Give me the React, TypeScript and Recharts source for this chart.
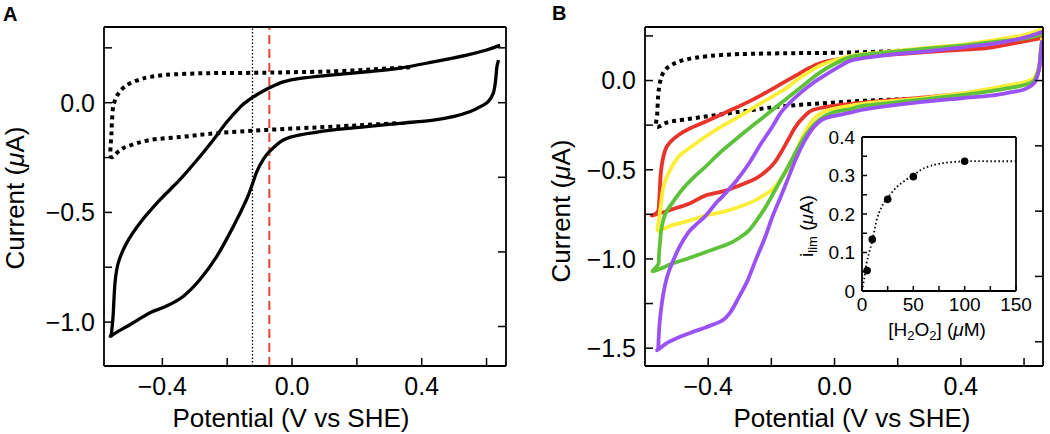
import React from 'react';
import { ComposedChart, Line, XAxis, YAxis, ReferenceLine } from 'recharts';

const FONT = '"Liberation Sans", Arial, Helvetica, sans-serif';

// ---------- Panel A data: [potential V, current µA] in sweep order ----------
const aSolid: number[][] = [
  [0.642, 0.262], [0.6, 0.24], [0.539, 0.217], [0.436, 0.186], [0.333, 0.158], [0.23, 0.141],
  [0.128, 0.127], [0.025, 0.111], [-0.027, 0.095], [-0.07, 0.068], [-0.1, 0.044], [-0.122, 0.024],
  [-0.14, 0.005], [-0.16, -0.02], [-0.2, -0.086], [-0.243, -0.17], [-0.284, -0.245], [-0.346, -0.351],
  [-0.407, -0.442], [-0.469, -0.548], [-0.51, -0.639], [-0.536, -0.73], [-0.546, -0.82], [-0.552, -0.973],
  [-0.557, -1.05], [-0.56, -1.065],
  [-0.545, -1.05], [-0.49, -1.003], [-0.438, -0.957], [-0.387, -0.927], [-0.335, -0.882], [-0.284, -0.806],
  [-0.232, -0.7], [-0.181, -0.564], [-0.14, -0.44], [-0.122, -0.37], [-0.109, -0.315], [-0.09, -0.262],
  [-0.07, -0.223], [-0.027, -0.17], [0.025, -0.147], [0.128, -0.124], [0.23, -0.109], [0.333, -0.094],
  [0.436, -0.079], [0.5, -0.062], [0.55, -0.04], [0.585, -0.015], [0.605, 0.005], [0.62, 0.04],
  [0.627, 0.09], [0.632, 0.164], [0.637, 0.194],
];
const aBlank: number[][] = [
  [0.364, 0.162], [0.25, 0.152], [0.128, 0.143], [0.0, 0.139], [-0.078, 0.137], [-0.2, 0.135],
  [-0.284, 0.134], [-0.387, 0.127], [-0.44, 0.117], [-0.469, 0.106], [-0.5, 0.088], [-0.52, 0.068],
  [-0.535, 0.043], [-0.546, 0.012], [-0.553, -0.033], [-0.557, -0.139], [-0.559, -0.245],
  [-0.535, -0.222], [-0.51, -0.2], [-0.438, -0.17], [-0.335, -0.155], [-0.232, -0.139], [-0.078, -0.124],
  [0.128, -0.109], [0.23, -0.101], [0.33, -0.093],
];
const aMidpointDotted = -0.122;
const aMidpointDashed = -0.07;

// ---------- Panel B data ----------
const bBlank: number[][] = [
  [0.356, 0.182], [0.165, 0.163], [-0.016, 0.155], [-0.15, 0.153], [-0.303, 0.148], [-0.4, 0.137],
  [-0.47, 0.118], [-0.515, 0.088], [-0.54, 0.05], [-0.552, -0.006], [-0.558, -0.08], [-0.561, -0.18],
  [-0.563, -0.259], [-0.53, -0.235], [-0.48, -0.22], [-0.409, -0.202], [-0.3, -0.175], [-0.197, -0.15],
  [-0.1, -0.135], [-0.005, -0.124], [0.1, -0.113], [0.2, -0.106], [0.377, -0.1],
];
const bRed: number[][] = [
  [0.66, 0.24], [0.6, 0.22], [0.494, 0.185], [0.4, 0.172], [0.3, 0.16], [0.15, 0.142], [0.058, 0.13],
  [-0.026, 0.107], [-0.08, 0.07], [-0.12, 0.03], [-0.165, -0.015], [-0.22, -0.07], [-0.271, -0.118],
  [-0.34, -0.175], [-0.409, -0.231], [-0.46, -0.27], [-0.494, -0.305], [-0.52, -0.345], [-0.536, -0.39],
  [-0.549, -0.502], [-0.555, -0.671], [-0.559, -0.735], [-0.578, -0.757],
  [-0.545, -0.74], [-0.515, -0.722], [-0.46, -0.69], [-0.409, -0.645], [-0.35, -0.62], [-0.303, -0.59],
  [-0.25, -0.55], [-0.218, -0.51], [-0.19, -0.46], [-0.165, -0.39], [-0.14, -0.31], [-0.122, -0.255],
  [-0.095, -0.2], [-0.069, -0.165], [-0.005, -0.142], [0.1, -0.122], [0.25, -0.1], [0.4, -0.075],
  [0.494, -0.05], [0.56, -0.035], [0.6, -0.02], [0.632, 0.0], [0.647, 0.06], [0.653, 0.15], [0.657, 0.215],
];
const bYellow: number[][] = [
  [0.66, 0.29], [0.6, 0.255], [0.5, 0.225], [0.4, 0.2], [0.3, 0.185], [0.15, 0.158], [0.058, 0.14],
  [-0.026, 0.098], [-0.07, 0.06], [-0.112, 0.013], [-0.15, -0.04], [-0.197, -0.09], [-0.25, -0.145],
  [-0.303, -0.202], [-0.36, -0.26], [-0.409, -0.315], [-0.46, -0.38], [-0.494, -0.427], [-0.526, -0.521],
  [-0.542, -0.6], [-0.55, -0.7], [-0.556, -0.78], [-0.56, -0.84],
  [-0.54, -0.83], [-0.515, -0.812], [-0.46, -0.785], [-0.409, -0.757], [-0.35, -0.735], [-0.303, -0.709],
  [-0.25, -0.67], [-0.197, -0.61], [-0.165, -0.54], [-0.143, -0.48], [-0.12, -0.39], [-0.101, -0.315],
  [-0.08, -0.25], [-0.058, -0.202], [-0.026, -0.17], [0.016, -0.152], [0.1, -0.128], [0.25, -0.105],
  [0.4, -0.072], [0.494, -0.045], [0.56, -0.025], [0.6, -0.01], [0.632, 0.015], [0.647, 0.08],
  [0.653, 0.17], [0.657, 0.24],
];
const bGreen: number[][] = [
  [0.66, 0.26], [0.6, 0.235], [0.5, 0.215], [0.4, 0.195], [0.3, 0.18], [0.15, 0.155], [0.058, 0.135],
  [-0.005, 0.088], [-0.05, 0.04], [-0.09, -0.015], [-0.14, -0.085], [-0.197, -0.165], [-0.25, -0.24],
  [-0.303, -0.315], [-0.36, -0.4], [-0.409, -0.484], [-0.45, -0.55], [-0.484, -0.615], [-0.515, -0.69],
  [-0.536, -0.75], [-0.548, -0.83], [-0.552, -0.9], [-0.556, -0.98], [-0.558, -1.03], [-0.576, -1.069],
  [-0.545, -1.05], [-0.515, -1.027], [-0.46, -0.995], [-0.409, -0.962], [-0.335, -0.915], [-0.3, -0.88],
  [-0.271, -0.84], [-0.245, -0.78], [-0.218, -0.709], [-0.19, -0.62], [-0.165, -0.54], [-0.14, -0.46],
  [-0.11, -0.36], [-0.08, -0.28], [-0.048, -0.22], [-0.005, -0.18], [0.05, -0.16], [0.1, -0.14],
  [0.25, -0.112], [0.4, -0.082], [0.494, -0.06], [0.56, -0.04], [0.6, -0.025], [0.632, 0.0],
  [0.647, 0.07], [0.653, 0.16], [0.657, 0.225],
];
const bPurple: number[][] = [
  [0.66, 0.275], [0.6, 0.24], [0.515, 0.21], [0.4, 0.185], [0.3, 0.165], [0.15, 0.14], [0.058, 0.115],
  [0.016, 0.079], [-0.03, 0.03], [-0.069, -0.015], [-0.105, -0.065], [-0.143, -0.127], [-0.17, -0.18],
  [-0.197, -0.259], [-0.235, -0.36], [-0.271, -0.465], [-0.31, -0.56], [-0.356, -0.652], [-0.377, -0.69],
  [-0.409, -0.76], [-0.44, -0.81], [-0.462, -0.85], [-0.49, -0.93], [-0.515, -1.027], [-0.53, -1.1],
  [-0.542, -1.196], [-0.552, -1.327], [-0.556, -1.42], [-0.558, -1.496], [-0.56, -1.51],
  [-0.53, -1.47], [-0.494, -1.44], [-0.45, -1.41], [-0.409, -1.384], [-0.356, -1.346], [-0.33, -1.3],
  [-0.303, -1.215], [-0.275, -1.12], [-0.25, -1.008], [-0.22, -0.88], [-0.197, -0.765], [-0.17, -0.65],
  [-0.143, -0.53], [-0.12, -0.43], [-0.095, -0.34], [-0.07, -0.27], [-0.04, -0.22], [-0.005, -0.2],
  [0.05, -0.18], [0.1, -0.16], [0.25, -0.125], [0.4, -0.1], [0.494, -0.085], [0.56, -0.065],
  [0.6, -0.05], [0.632, -0.015], [0.647, 0.06], [0.653, 0.16], [0.657, 0.225],
];

// ---------- Inset data ----------
const insetConc = [5, 10, 25, 50, 100];
const insetIlim = [0.053, 0.134, 0.238, 0.297, 0.337];
const fitConc = [0, 2, 4.5, 7, 10, 14.3, 19.2, 25, 33.8, 43.5, 50, 59.7, 76, 100, 125, 150];
const fitIlim = [0, 0.03, 0.072, 0.1, 0.13, 0.184, 0.219, 0.242, 0.27, 0.29, 0.3, 0.318, 0.331, 0.337, 0.337, 0.337];

// ---------- Ticks ----------
const aXTicks = [-0.4, -0.2, 0, 0.2, 0.4, 0.6];
const xLabels = [-0.4, 0, 0.4];
const aYTicks = [0.25, 0, -0.25, -0.5, -0.75, -1.0];
const aYLabels = [0, -0.5, -1.0];
const aYRightTicks = [0.25, 0, -0.34, -0.68, -1.02];
const bXTicks = [-0.4, -0.2, 0, 0.2, 0.4, 0.6];
const bYTicks = [0.25, 0, -0.25, -0.5, -0.75, -1.0, -1.25, -1.5];
const bYLabels = [0, -0.5, -1.0, -1.5];
const bYRightTicks = [0, -0.366, -0.732, -1.098, -1.464];
const inXTicks = [0, 25, 50, 75, 100, 125, 150];
const inXLabels = [0, 50, 100, 150];
const inYTicks = [0, 0.05, 0.1, 0.15, 0.2, 0.25, 0.3, 0.35, 0.4];
const inYLabels = [0, 0.1, 0.2, 0.3, 0.4];

const pts = (arr: number[][]) => arr.map(([x, y]) => ({ x, y }));
const zip = (xs: number[], ys: number[]) => xs.map((x, i) => ({ x, y: ys[i] }));
const has = (list: number[], v: number) => list.some((l) => Math.abs(l - v) < 1e-9);
const signed = (v: number) => (v < 0 ? '\u2212' : '') + Math.abs(v).toFixed(1);
const insetY = (v: number) => (v === 0 ? '0' : v.toFixed(1));

// Catmull-Rom curve factory (smooth, passes through the points)
function catmullRom(context: any) {
  let p: number[][] = [];
  return {
    areaStart() {},
    areaEnd() {},
    lineStart() { p = []; },
    lineEnd() {
      const n = p.length;
      if (!n) return;
      context.moveTo(p[0][0], p[0][1]);
      for (let i = 0; i < n - 1; i++) {
        const p0 = p[i - 1] || p[i];
        const p1 = p[i];
        const p2 = p[i + 1];
        const p3 = p[i + 2] || p2;
        context.bezierCurveTo(
          p1[0] + (p2[0] - p0[0]) / 6, p1[1] + (p2[1] - p0[1]) / 6,
          p2[0] - (p3[0] - p1[0]) / 6, p2[1] - (p3[1] - p1[1]) / 6,
          p2[0], p2[1]
        );
      }
    },
    point(x: number, y: number) { p.push([+x, +y]); },
  };
}

// ---------- custom inward ticks ----------
const coord = (p: any, fallback: number) =>
  p && p.payload && typeof p.payload.coordinate === 'number' ? p.payload.coordinate : fallback;

const leftTick = (axisX: number, len: number, labels: number[], fmt: (v: number) => string, fs: number, gap: number) =>
  (p: any) => {
    const y = coord(p, p.y);
    const v = p.payload.value;
    return (
      <g>
        <line x1={axisX} x2={axisX + len} y1={y} y2={y} stroke="#000" strokeWidth={1.5} />
        {has(labels, v) && (
          <text x={axisX - gap} y={y} dy="0.355em" textAnchor="end" fontSize={fs} fontFamily={FONT} fill="#000">
            {fmt(v)}
          </text>
        )}
      </g>
    );
  };
const rightTick = (axisX: number, len: number) => (p: any) => {
  const y = coord(p, p.y);
  return <line x1={axisX} x2={axisX - len} y1={y} y2={y} stroke="#000" strokeWidth={1.5} />;
};
const bottomTick = (axisY: number, len: number, labels: number[], fmt: (v: number) => string, fs: number, gap: number) =>
  (p: any) => {
    const x = coord(p, p.x);
    const v = p.payload.value;
    return (
      <g>
        <line x1={x} x2={x} y1={axisY} y2={axisY - len} stroke="#000" strokeWidth={1.5} />
        {has(labels, v) && (
          <text x={x} y={axisY + gap} dy="0.71em" textAnchor="middle" fontSize={fs} fontFamily={FONT} fill="#000">
            {fmt(v)}
          </text>
        )}
      </g>
    );
  };

const axisLine = { stroke: '#000', strokeWidth: 1.8 };

const RED = '#e8342a';
const YELLOW = '#fbee38';
const GREEN = '#5ec13a';
const PURPLE = '#9b52f5';

function curve(data: number[][], color: string, width: number, dash?: string, key?: string) {
  return (
    <Line
      key={key}
      data={pts(data)}
      dataKey="y"
      type={catmullRom as any}
      stroke={color}
      strokeWidth={width}
      strokeDasharray={dash}
      strokeLinejoin="round"
      dot={false}
      activeDot={false}
      isAnimationActive={false}
    />
  );
}

// Panel A plot area: x 104..506, y 27..366 (local coords)
function PanelA() {
  const xd: [number, number] = [-0.58, 0.66];
  const yd: [number, number] = [-1.2, 0.345];
  return (
    <ComposedChart width={520} height={434} margin={{ top: 26, right: 13, bottom: 67, left: 103 }}>
      <XAxis dataKey="x" type="number" domain={xd} allowDataOverflow ticks={aXTicks} interval={0} height={1}
        tickLine={false} tick={bottomTick(366, 8, xLabels, signed, 25, 11)} axisLine={axisLine} />
      <XAxis xAxisId="t" orientation="top" type="number" domain={xd} allowDataOverflow height={1}
        ticks={aXTicks} tick={() => <g />} tickLine={false} axisLine={axisLine} />
      <YAxis type="number" domain={yd} allowDataOverflow ticks={aYTicks} interval={0} width={1}
        tickLine={false} tick={leftTick(104, 8, aYLabels, signed, 25, 9)} axisLine={axisLine} />
      <YAxis yAxisId="r" orientation="right" type="number" domain={yd} allowDataOverflow ticks={aYRightTicks}
        interval={0} width={1} tickLine={false} tick={rightTick(506, 8)} axisLine={axisLine} />
      <ReferenceLine x={aMidpointDotted} stroke="#000" strokeWidth={1.3} strokeDasharray="1.5 2" />
      <ReferenceLine x={aMidpointDashed} stroke="#ea4236" strokeWidth={2} strokeDasharray="9 5" />
      {curve(aBlank, '#000', 4, '4 4', 'ab')}
      {curve(aSolid, '#000', 3.3, undefined, 'as')}
    </ComposedChart>
  );
}

// Panel B plot area: x 125..523, y 27..366 (local coords)
function PanelB() {
  const xd: [number, number] = [-0.6, 0.66];
  const yd: [number, number] = [-1.6, 0.3];
  return (
    <ComposedChart width={530} height={434} margin={{ top: 26, right: 6, bottom: 67, left: 124 }}>
      <XAxis dataKey="x" type="number" domain={xd} allowDataOverflow ticks={bXTicks} interval={0} height={1}
        tickLine={false} tick={bottomTick(366, 8, xLabels, signed, 25, 11)} axisLine={axisLine} />
      <XAxis xAxisId="t" orientation="top" type="number" domain={xd} allowDataOverflow height={1}
        ticks={bXTicks} tick={() => <g />} tickLine={false} axisLine={axisLine} />
      <YAxis type="number" domain={yd} allowDataOverflow ticks={bYTicks} interval={0} width={1}
        tickLine={false} tick={leftTick(125, 8, bYLabels, signed, 25, 9)} axisLine={axisLine} />
      <YAxis yAxisId="r" orientation="right" type="number" domain={yd} allowDataOverflow ticks={bYRightTicks}
        interval={0} width={1} tickLine={false} tick={rightTick(523, 8)} axisLine={axisLine} />
      {curve(bBlank, '#000', 4, '4 4', 'bb')}
      {curve(bRed, RED, 3.8, undefined, 'br')}
      {curve(bYellow, YELLOW, 3.8, undefined, 'by')}
      {curve(bGreen, GREEN, 3.8, undefined, 'bg')}
      {curve(bPurple, PURPLE, 3.8, undefined, 'bp')}
    </ComposedChart>
  );
}

// Inset plot area: x 82..236, y 27..181 (local coords)
function Inset() {
  const xd: [number, number] = [0, 150];
  const yd: [number, number] = [0, 0.4];
  return (
    <ComposedChart width={260} height={250} margin={{ top: 26, right: 23, bottom: 68, left: 81 }}>
      <XAxis dataKey="x" type="number" domain={xd} allowDataOverflow ticks={inXTicks} interval={0} height={1}
        tickLine={false} tick={bottomTick(181, 5, inXLabels, (v) => String(v), 19, 7)} axisLine={axisLine} />
      <XAxis xAxisId="t" orientation="top" type="number" domain={xd} allowDataOverflow height={1}
        ticks={inXTicks} tick={() => <g />} tickLine={false} axisLine={axisLine} />
      <YAxis type="number" domain={yd} allowDataOverflow ticks={inYTicks} interval={0} width={1}
        tickLine={false} tick={leftTick(82, 5, inYLabels, insetY, 19, 7)} axisLine={axisLine} />
      <YAxis yAxisId="r" orientation="right" type="number" domain={yd} allowDataOverflow width={1}
        ticks={inYTicks} tick={() => <g />} tickLine={false} axisLine={axisLine} />
      <Line data={zip(fitConc, fitIlim)} dataKey="y" type={catmullRom as any} stroke="#000" strokeWidth={1.8}
        strokeDasharray="1.5 2.5" dot={false} activeDot={false} isAnimationActive={false} />
      <Line data={zip(insetConc, insetIlim)} dataKey="y" stroke="none"
        dot={{ r: 3.8, fill: '#000', stroke: 'none' }} activeDot={false} isAnimationActive={false} />
    </ComposedChart>
  );
}

export default function App() {
  return (
    <div style={{ position: 'absolute', left: 0, top: 0, width: 1050, height: 434, background: '#fff', overflow: 'hidden' }}>
      <div style={{ position: 'absolute', left: 0, top: 0 }}><PanelA /></div>
      <div style={{ position: 'absolute', left: 520, top: 0 }}><PanelB /></div>
      <div style={{ position: 'absolute', left: 780, top: 110 }}><Inset /></div>
      <svg width={1050} height={434} style={{ position: 'absolute', left: 0, top: 0, pointerEvents: 'none' }}
        fontFamily={FONT} fill="#000">
        <text x={3} y={21} fontSize={20} fontWeight="bold">A</text>
        <text x={552} y={20} fontSize={20} fontWeight="bold">B</text>
        <text x={291} y={427} fontSize={26} textAnchor="middle">Potential (V vs SHE)</text>
        <text x={852} y={427} fontSize={26} textAnchor="middle">Potential (V vs SHE)</text>
        <text transform="translate(24,198) rotate(-90)" fontSize={26} textAnchor="middle">
          Current (<tspan fontStyle="italic">μ</tspan>A)
        </text>
        <text transform="translate(570,211) rotate(-90)" fontSize={26} textAnchor="middle">
          Current (<tspan fontStyle="italic">μ</tspan>A)
        </text>
        <text transform="translate(813,226) rotate(-90)" fontSize={19} textAnchor="middle">
          i<tspan fontSize={13} dy={4}>lim</tspan><tspan dy={-4}> (</tspan><tspan fontStyle="italic">μ</tspan>A)
        </text>
        <text x={937} y={336} fontSize={19} textAnchor="middle">
          [H<tspan fontSize={13} dy={4}>2</tspan><tspan dy={-4}>O</tspan><tspan fontSize={13} dy={4}>2</tspan><tspan dy={-4}>] (</tspan><tspan fontStyle="italic">μ</tspan>M)
        </text>
      </svg>
    </div>
  );
}
